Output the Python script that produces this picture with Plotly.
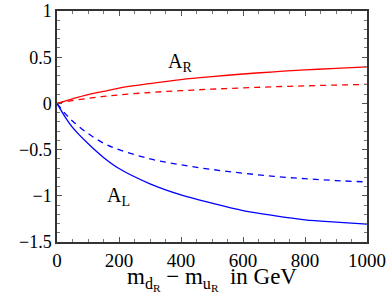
import plotly.graph_objects as go

x_vals = [0, 25, 50, 100, 150, 200, 300, 400, 500, 600, 700, 800, 900, 1000]
ar_solid = [0, 0.025, 0.05, 0.095, 0.13, 0.165, 0.215, 0.258, 0.29, 0.318, 0.342, 0.362, 0.38, 0.395]
ar_dashed = [0, 0.016, 0.03, 0.055, 0.075, 0.092, 0.118, 0.138, 0.154, 0.168, 0.18, 0.19, 0.198, 0.206]
al_solid = [0, -0.14, -0.26, -0.435, -0.585, -0.705, -0.87, -0.99, -1.08, -1.16, -1.215, -1.26, -1.285, -1.306]
al_dashed = [0, -0.105, -0.19, -0.325, -0.43, -0.5, -0.6, -0.665, -0.715, -0.755, -0.79, -0.815, -0.835, -0.85]

x_ticks = [0, 200, 400, 600, 800, 1000]
y_ticks = [1, 0.5, 0, -0.5, -1, -1.5]
y_ticklabels = ["1", "0.5", "0", "\u22120.5", "\u22121", "\u22121.5"]

fig = go.Figure()
fig.add_trace(go.Scatter(x=x_vals, y=ar_solid, mode="lines", line=dict(color="#ff0000", width=1.3, shape="spline")))
fig.add_trace(go.Scatter(x=x_vals, y=ar_dashed, mode="lines", line=dict(color="#ff0000", width=1.3, dash="6px,5px", shape="spline")))
fig.add_trace(go.Scatter(x=x_vals, y=al_solid, mode="lines", line=dict(color="#0000ff", width=1.3, shape="spline")))
fig.add_trace(go.Scatter(x=x_vals, y=al_dashed, mode="lines", line=dict(color="#0000ff", width=1.3, dash="6px,5px", shape="spline")))

serif = "Liberation Serif, Times New Roman, serif"
font = dict(family=serif, size=19, color="black")
axis_common = dict(showgrid=False, zeroline=False, showline=True, linecolor="#333333", linewidth=1.5,
                   mirror="allticks", ticks="inside", ticklen=5, tickcolor="#555555", tickwidth=1,
                   automargin=False)
fig.update_layout(
    width=392, height=294, margin=dict(l=57, r=25, t=11, b=52, autoexpand=False),
    paper_bgcolor="white", plot_bgcolor="white", showlegend=False, font=font,
    xaxis=dict(range=[0, 1000], tickvals=x_ticks, tickfont=font,
               minor=dict(dtick=50, ticks="inside", ticklen=3, tickcolor="#777777"),
               title=dict(text="m<sub>d<sub>R</sub></sub> \u2212 m<sub>u<sub>R</sub></sub>  in GeV",
                          font=dict(family=serif, size=23), standoff=0),
               **axis_common),
    yaxis=dict(range=[-1.5, 1], tickvals=y_ticks, ticktext=y_ticklabels,
               tickfont=dict(family=serif, size=18, color="black"),
               minor=dict(dtick=0.1, ticks="inside", ticklen=3, tickcolor="#777777"),
               **axis_common),
    annotations=[
        dict(x=397, y=0.44, text="A<sub>R</sub>", showarrow=False, font=dict(family=serif, size=20)),
        dict(x=197, y=-1.01, text="A<sub>L</sub>", showarrow=False, font=dict(family=serif, size=20)),
    ],
)
fig.write_html("out.html", config={"displayModeBar": False})

with open("out.html", "r", encoding="utf-8") as f:
    html = f.read()
html = html.replace("<head>", "<head><style>html,body{margin:0;padding:0;overflow:hidden;}</style>", 1)
with open("out.html", "w", encoding="utf-8") as f:
    f.write(html)
